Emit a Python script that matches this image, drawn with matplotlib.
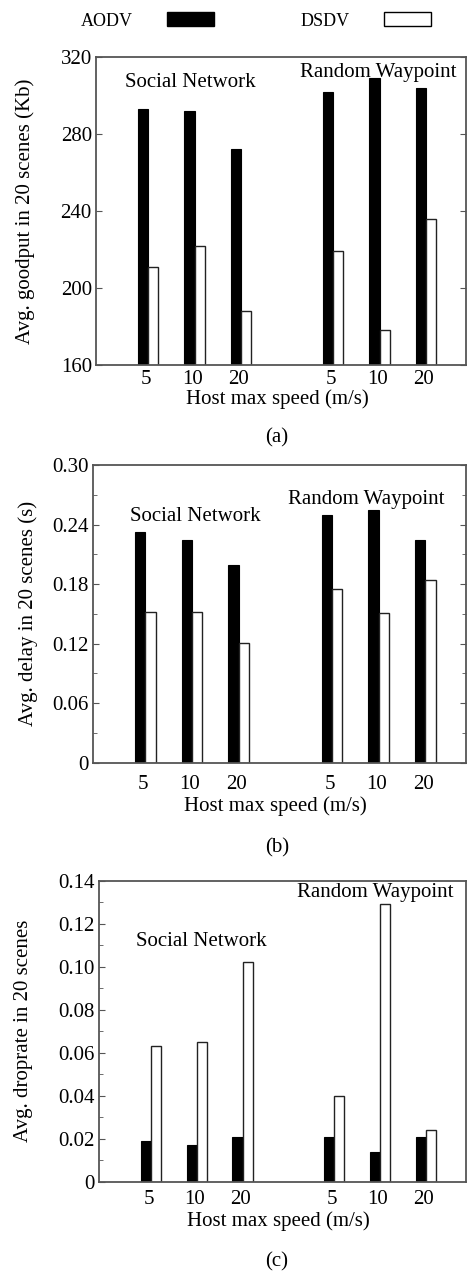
import matplotlib
matplotlib.use("Agg")
import matplotlib.pyplot as plt
from matplotlib.patches import Patch
from matplotlib.ticker import MultipleLocator

plt.rcParams['font.family'] = ['Liberation Serif', 'DejaVu Serif']

# positions des groupes (Social Network : 1,2,3 ; Random Waypoint : 5,6,7)
positions = [1, 2, 3, 5, 6, 7]
speed_labels = ["5", "10", "20", "5", "10", "20"]

# (a) goodput
goodput_aodv = [293, 292, 272, 302, 309, 304]
goodput_dsdv = [211, 222, 188, 219, 178, 236]
# (b) delay
delay_aodv = [0.232, 0.224, 0.199, 0.250, 0.255, 0.224]
delay_dsdv = [0.152, 0.152, 0.121, 0.175, 0.151, 0.184]
# (c) droprate
drop_aodv = [0.019, 0.017, 0.021, 0.021, 0.014, 0.021]
drop_dsdv = [0.063, 0.065, 0.102, 0.040, 0.129, 0.024]

W, H = 467, 1271
fig = plt.figure(figsize=(W / 100, H / 100), dpi=100)

spine_col = "#555555"

panels = [
    # rect (px): left, top, right, bottom
    dict(rect=(96, 57, 466, 365), aodv=goodput_aodv, dsdv=goodput_dsdv,
         ylim=(160, 320), major=40, minor=None, fmt="{:.0f}",
         ylabel="Avg. goodput in 20 scenes (Kb)", ylab_x=-0.165,
         sn=(1.9, 306.5), rw=(5.97, 312.2), tickpad=3.6, xlab_y=-0.08,
         caption="(a)", cap_y=438, right_ticks=True),
    dict(rect=(92.7, 465, 466, 762.7), aodv=delay_aodv, dsdv=delay_dsdv,
         ylim=(0, 0.30), major=0.06, minor=0.03, fmt="{:.2f}",
         ylabel="Avg. delay in 20 scenes (s)", ylab_x=-0.147,
         sn=(2.07, 0.2476), rw=(5.74, 0.2657), tickpad=9.0, xlab_y=-0.112,
         caption="(b)", cap_y=848, right_ticks=True),
    dict(rect=(99, 880.7, 466, 1181.7), aodv=drop_aodv, dsdv=drop_dsdv,
         ylim=(0, 0.14), major=0.02, minor=0.01, fmt="{:.2f}",
         ylabel="Avg. droprate in 20 scenes", ylab_x=-0.18,
         sn=(2.11, 0.1115), rw=(5.9, 0.1347), tickpad=5.8, xlab_y=-0.097,
         caption="(c)", cap_y=1262, right_ticks=False),
]

for p in panels:
    l, t, r, b = p["rect"]
    ax = fig.add_axes([l / W, 1 - b / H, (r - l) / W, (b - t) / H])
    ax.bar(positions, p["aodv"], width=-0.22, align="edge", color="black",
           edgecolor="black", linewidth=0.8)
    ax.bar(positions, p["dsdv"], width=0.22, align="edge", color="white",
           edgecolor="#222222", linewidth=1.0)
    ax.set_xlim(-0.13, 7.87)
    ax.set_ylim(*p["ylim"])
    ax.yaxis.set_major_locator(MultipleLocator(p["major"]))
    if p["minor"]:
        ax.yaxis.set_minor_locator(MultipleLocator(p["minor"]))
    ticks = ax.get_yticks()
    ticks = [v for v in ticks if p["ylim"][0] - 1e-9 <= v <= p["ylim"][1] + 1e-9]
    ax.set_yticks(ticks)
    ax.set_yticklabels(["0" if abs(v) < 1e-12 else p["fmt"].format(v) for v in ticks])
    ax.tick_params(axis="y", which="both", direction="in", labelsize=15,
                   right=p["right_ticks"], color=spine_col, pad=3)
    ax.tick_params(axis="y", which="major", length=4)
    ax.tick_params(axis="y", which="minor", length=3)
    ax.set_xticks([x - 0.05 for x in positions])
    ax.set_xticklabels(speed_labels)
    ax.tick_params(axis="x", length=0, labelsize=15, pad=p["tickpad"])
    for s in ax.spines.values():
        s.set_color(spine_col)
        s.set_linewidth(1.3)
    ax.set_ylabel(p["ylabel"], fontsize=15)
    ax.yaxis.set_label_coords(p["ylab_x"], 0.5)
    ax.set_xlabel("Host max speed (m/s)", fontsize=15)
    ax.xaxis.set_label_coords(0.49, p["xlab_y"])
    ax.text(*p["sn"], "Social Network", fontsize=15, ha="center", va="center")
    ax.text(*p["rw"], "Random Waypoint", fontsize=15, ha="center", va="center")
    fig.text(277 / W, 1 - p["cap_y"] / H, p["caption"], fontsize=15,
             ha="center", va="center")

handles = [Patch(facecolor="black", edgecolor="black", label="AODV"),
           Patch(facecolor="white", edgecolor="black", label="DSDV")]
fig.legend(handles=handles, loc="center", bbox_to_anchor=(256 / W, 1 - 21 / H),
           ncol=2, frameon=False, markerfirst=False, fontsize=13,
           handlelength=2.6, handleheight=0.8, handletextpad=1.9,
           columnspacing=4.8)

fig.savefig("out.png", dpi=100)
